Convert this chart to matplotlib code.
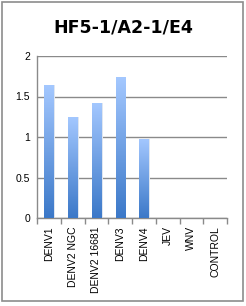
import numpy as np
import matplotlib
matplotlib.use("Agg")
import matplotlib.pyplot as plt
from matplotlib.colors import LinearSegmentedColormap
from matplotlib.patches import Rectangle

title = "HF5-1/A2-1/E4"
categories = ["DENV1", "DENV2 NGC", "DENV2 16681", "DENV3", "DENV4", "JEV", "WNV", "CONTROL"]
values = [1.64, 1.25, 1.42, 1.74, 0.98, 0.0, 0.0, 0.0]
yticks = [0, 0.5, 1, 1.5, 2]
ytick_labels = ["0", "0.5", "1", "1.5", "2"]

plt.rcParams['font.family'] = ['Liberation Sans', 'DejaVu Sans']

fig = plt.figure(figsize=(2.46, 3.06), dpi=100)
fig.patches.append(Rectangle((2/246, 1 - 301/306), 241/246, 299/306,
                             transform=fig.transFigure, fill=False,
                             edgecolor="#8c8c8c", linewidth=1.2))
ax = fig.add_axes([37/246, 1 - 218/306, 190/246, 162/306])

x = np.arange(len(categories))
width = 0.38
# soft shadow
ax.bar(x + 0.07, values, width=width, color="#dfe6f0", zorder=2, linewidth=0)
bars = ax.bar(x, values, width=width, color="none", zorder=3, linewidth=0)

cmap = LinearSegmentedColormap.from_list("g", ["#3b78c8", "#a4c8ff"])
grad = np.linspace(0, 1, 256).reshape(-1, 1)
for b in bars:
    h = b.get_height()
    if h <= 0:
        continue
    x0 = b.get_x()
    im = ax.imshow(grad, cmap=cmap, origin="lower", aspect="auto",
                   extent=(x0, x0 + b.get_width(), 0, h), zorder=3)
    im.set_clip_path(b)

ax.set_xlim(-0.5, len(categories) - 0.5)
ax.set_ylim(0, 2)
ax.set_yticks(yticks)
ax.set_yticklabels(ytick_labels, fontsize=7.5)
ax.yaxis.grid(True, color="#8a8a8a", linewidth=1.0, zorder=0)
ax.set_axisbelow(True)
ax.tick_params(axis="y", length=0, pad=5)

ax.set_xticks(np.arange(len(categories) + 1) - 0.5, minor=False)
ax.set_xticklabels([""] * (len(categories) + 1))
ax.tick_params(axis="x", length=4, color="#8a8a8a", width=1, direction="out")
ax.set_xticks(x, minor=True)
ax.set_xticklabels(categories, minor=True, rotation=90, fontsize=7.5)
ax.tick_params(axis="x", which="minor", length=0, pad=6)

for s in ["top", "right"]:
    ax.spines[s].set_visible(False)
for s in ["left", "bottom"]:
    ax.spines[s].set_color("#8a8a8a")
    ax.spines[s].set_linewidth(1.0)

fig.text(123/246, 1 - 27/306, title, ha="center", va="center",
         fontsize=12.5, fontweight="bold", family="DejaVu Sans")

fig.savefig("out.png", dpi=100)
